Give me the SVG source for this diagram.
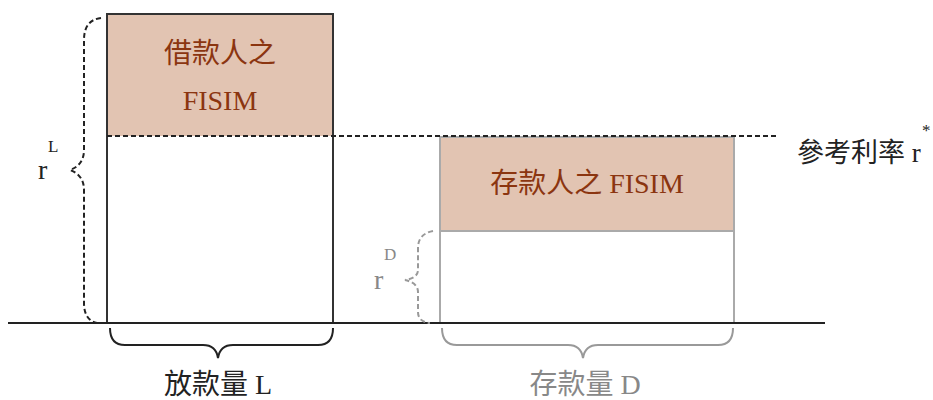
<svg xmlns="http://www.w3.org/2000/svg" width="933" height="400" viewBox="0 0 933 400">
<style>
text{font-family:"Liberation Serif","Noto Sans CJK TC",serif}
.lab{font-size:28px;fill:#8B3510;text-anchor:middle}
.blk{fill:#222}
.gry{fill:#888}
.dash{fill:none;stroke:#222;stroke-width:2;stroke-dasharray:5 3}
.gdash{fill:none;stroke:#999;stroke-width:2;stroke-dasharray:5 3}
.brace{fill:none;stroke:#222;stroke-width:2}
.gbrace{fill:none;stroke:#999;stroke-width:2}
</style>
<rect width="933" height="400" fill="#fff"/>
<g id="loan-box">
<rect x="107" y="14" width="226" height="122" fill="#E2C4B2"/>
<rect x="107" y="14" width="226" height="309" fill="none" stroke="#333" stroke-width="2"/>
<text class="lab" x="220" y="63">借款人之</text>
<text class="lab" x="220" y="110">FISIM</text>
</g>
<g id="deposit-box">
<rect x="440" y="137" width="294" height="93" fill="#E2C4B2"/>
<rect x="440" y="137" width="294" height="186" fill="none" stroke="#aaa" stroke-width="2"/>
<line x1="440" y1="231" x2="734" y2="231" stroke="#aaa" stroke-width="2"/>
<text class="lab" x="587" y="193">存款人之 FISIM</text>
</g>
<g id="connectors">
<line x1="8" y1="323" x2="825" y2="323" stroke="#222" stroke-width="2"/>
<line x1="107" y1="136" x2="776" y2="136" class="dash"/>
<path class="dash" d="M101 18 Q84 20 84 40 L84 150 Q84 165 70 170 Q84 175 84 190 L84 303 Q84 320 97 323"/>
<path class="brace" d="M110 328 Q110 345 125 345 L203 345 Q216 345 218 358 Q220 345 233 345 L318 345 Q333 345 333 328"/>
<path class="gbrace" d="M442 328 Q442 345 457 345 L568 345 Q581 345 583 358 Q585 345 598 345 L718 345 Q733 345 733 328"/>
<path class="gdash" d="M433 231 Q418 234 418 248 L418 270 Q418 278 405 280 Q418 283 418 292 L418 312 Q418 322 430 323"/>
</g>
<g id="labels">
<text class="blk" x="38" y="179" font-size="28">r</text>
<text class="blk" x="48" y="152" font-size="17">L</text>
<text class="gry" x="374" y="289" font-size="28">r</text>
<text class="gry" x="384" y="260" font-size="17">D</text>
<text class="blk" x="797" y="162" font-size="27">參考利率 r</text>
<text class="blk" x="922" y="136" font-size="17">*</text>
<text class="blk" x="218" y="394" font-size="28" text-anchor="middle">放款量 L</text>
<text class="gry" x="585" y="394" font-size="28" text-anchor="middle">存款量 D</text>
</g>
</svg>
